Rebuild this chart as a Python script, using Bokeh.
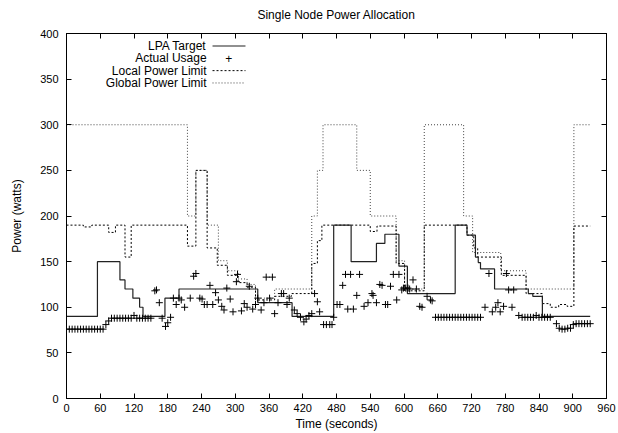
from bokeh.plotting import figure
from bokeh.models import Range1d, FixedTicker, LinearAxis, Label, Arrow, CustomJSTickFormatter
from bokeh.embed import file_html
from bokeh.resources import INLINE

# ---------------- data ----------------
x_ticks = [0, 60, 120, 180, 240, 300, 360, 420, 480, 540, 600, 660, 720, 780, 840, 900, 960]
y_ticks = [0, 50, 100, 150, 200, 250, 300, 350, 400]

# LPA Target (step, value holds from t[i] to t[i+1])
lpa_t = [0, 55, 95, 104, 118, 130, 136, 175, 200, 340, 401, 475, 506, 551, 566, 591, 606,
         691, 712, 727, 732, 736, 761, 821, 829, 846, 931]
lpa_w = [90, 150, 130, 120, 110, 100, 90, 110, 120, 105, 90, 190, 150, 170, 180, 145, 115,
         190, 179, 155, 149, 142, 120, 115, 112, 90, 90]

# Local Power Limit
local_t = [0, 30, 45, 75, 87, 104, 115, 215, 230, 250, 268, 286, 305, 321, 336, 370, 400,
           436, 446, 454, 540, 552, 586, 601, 636, 712, 724, 731, 773, 817, 846, 860, 875,
           890, 902, 931]
local_w = [190, 188, 190, 182, 190, 155, 190, 167, 250, 165, 146, 135, 127, 122, 108, 112, 115,
           148, 173, 190, 183, 189, 148, 118, 190, 179, 165, 155, 135, 115, 104, 100, 103,
           101, 189, 189]

# Global Power Limit
global_t = [0, 215, 230, 250, 270, 286, 305, 321, 336, 370, 436, 446, 456, 516, 540, 586,
            601, 636, 706, 722, 772, 817, 902, 931]
global_w = [300, 200, 250, 190, 151, 140, 131, 125, 110, 120, 200, 250, 300, 250, 200, 151,
            120, 300, 200, 160, 140, 120, 300, 300]

# Actual Usage
usage_t = [0, 5, 10, 15, 20, 25, 30, 35, 40, 45, 50, 55, 60, 65,
           70, 75, 80, 85, 90, 95, 100, 105, 110, 115, 120, 125, 130, 135, 140, 145, 150,
           157, 160, 165, 170, 176, 180, 185, 190, 195, 200, 204, 210, 220, 226, 230,
           237, 241, 245, 250, 255, 260, 265, 270, 276, 280, 285, 291, 296, 302, 304,
           311, 316, 321, 325, 331, 336, 340, 346, 351, 355, 361, 366, 370, 376, 382,
           386, 392, 396, 405, 410, 416, 422, 426, 431, 436, 441, 446, 450, 457, 462,
           468, 472, 475, 481, 486, 491, 496, 500, 505, 510, 516, 521, 529, 536, 543,
           545, 551, 557, 561, 567, 571, 576, 581, 587, 591, 596, 599, 603, 607, 610,
           616, 622, 628, 632, 641, 647, 650,
           656, 661, 666, 671, 676, 681, 686, 691, 696, 701, 706, 711, 716, 721, 726, 731, 736,
           744, 751, 757, 763, 767, 771, 777, 782, 786, 792, 795, 804,
           810, 815, 820, 825, 830, 835, 840, 845, 850, 855, 860,
           871, 876, 881, 886, 891, 896, 901, 906, 911, 916, 921, 926, 931]
usage_w = [76, 76, 76, 76, 76, 76, 76, 76, 76, 76, 76, 76, 76, 76,
           81, 85, 88, 88, 88, 88, 88, 88, 88, 88, 91, 88, 88, 88, 88, 88, 88,
           118, 119, 105, 88, 79, 83, 89, 110, 103, 110, 108, 100, 110, 134, 137,
           110, 109, 103, 103, 124, 103, 116, 108, 101, 97, 121, 109, 95, 128, 136,
           96, 104, 100, 123, 98, 103, 110, 97, 105, 133, 110, 133, 93, 105, 115,
           115, 103, 110, 97, 93, 89, 84, 87, 91, 93, 115, 106, 95, 81, 81,
           81, 81, 89, 103, 103, 124, 136, 98, 136, 98, 113, 136, 101, 105, 115,
           113, 105, 125, 124, 103, 103, 123, 136, 108, 136, 119, 121, 121, 121, 120,
           130, 120, 101, 100, 112, 108, 107,
           89, 89, 89, 89, 89, 89, 89, 89, 89, 89, 89, 89, 89, 89, 89, 89, 89,
           100, 137, 95, 100, 105, 95, 101, 137, 119, 100, 119, 91,
           89, 89, 89, 89, 89, 91, 89, 89, 89, 89, 89,
           82, 77, 76, 76, 77, 77, 81, 82, 82, 82, 82, 82, 82]

legend_labels = ["LPA Target", "Actual Usage", "Local Power Limit", "Global Power Limit"]
title_text = "Single Node Power Allocation"

FONT = "Liberation Sans"

# ---------------- figure ----------------
p = figure(width=618, height=433, output_backend="svg", toolbar_location=None,
           x_range=Range1d(0, 960), y_range=Range1d(0, 400),
           min_border_left=66, min_border_right=12, min_border_top=33, min_border_bottom=35,
           title=None)
p.background_fill_color = "white"
p.border_fill_color = "white"
p.outline_line_color = "black"
p.outline_line_width = 1
p.xgrid.visible = False
p.ygrid.visible = False

def style_axis(ax, ticks, show_labels):
    ax.ticker = FixedTicker(ticks=ticks)
    ax.minor_tick_line_color = None
    ax.major_tick_in = 5
    ax.major_tick_out = 0
    ax.axis_line_color = "black"
    ax.major_tick_line_color = "black"
    ax.major_label_text_font = FONT
    ax.major_label_text_color = "black"
    if show_labels:
        ax.major_label_text_font_size = "11px"
    else:
        ax.major_label_text_font_size = "0px"
        ax.major_label_standoff = 0
        ax.formatter = CustomJSTickFormatter(code="return ''")

def style_label(ax, text, standoff):
    ax.axis_label = text
    ax.axis_label_text_font = FONT
    ax.axis_label_text_font_size = "12px"
    ax.axis_label_text_font_style = "normal"
    ax.axis_label_text_color = "black"
    ax.axis_label_standoff = standoff

xa = p.xaxis[0]
style_axis(xa, x_ticks, True)
xa.major_label_standoff = 5
style_label(xa, "Time (seconds)", 2)

ya = p.yaxis[0]
style_axis(ya, y_ticks, True)
ya.major_label_standoff = 8
style_label(ya, "Power (watts)", 13)

# mirrored ticks on top (carrying the chart title) and on the right
top = LinearAxis()
style_axis(top, x_ticks, False)
style_label(top, title_text, 12)
p.add_layout(top, "above")
right = LinearAxis()
style_axis(right, y_ticks, False)
p.add_layout(right, "right")

# ---------------- series ----------------
p.step(global_t, global_w, mode="after", line_color="#444444", line_width=1, line_dash="1 2")
p.step(local_t, local_w, mode="after", line_color="black", line_width=1, line_dash="2 2")
p.step(lpa_t, lpa_w, mode="after", line_color="#222222", line_width=1.2)
p.scatter(usage_t, usage_w, marker="cross", size=7, line_color="black", line_width=1)

# ---------------- legend (gnuplot style: label right-aligned, sample right) ----------------
rows = [386.3, 372.8, 359.3, 345.8]
for lab, yv in zip(legend_labels, rows):
    p.add_layout(Label(x=249, y=yv, text=lab, text_align="right", text_baseline="middle",
                       text_font=FONT, text_font_size="12px", text_color="black"))
p.add_layout(Arrow(end=None, x_start=259.6, y_start=rows[0], x_end=318.2, y_end=rows[0],
                   line_color="#222222", line_width=1.2))
p.add_layout(Label(x=288.5, y=rows[1], text="+", text_align="center", text_baseline="middle",
                   text_font=FONT, text_font_size="12px", text_color="black"))
p.add_layout(Arrow(end=None, x_start=259.6, y_start=rows[2], x_end=318.2, y_end=rows[2],
                   line_color="black", line_width=1, line_dash="2 2"))
p.add_layout(Arrow(end=None, x_start=259.6, y_start=rows[3], x_end=318.2, y_end=rows[3],
                   line_color="#444444", line_width=1, line_dash="1 2"))

open("out.html", "w").write(file_html(p, INLINE))
